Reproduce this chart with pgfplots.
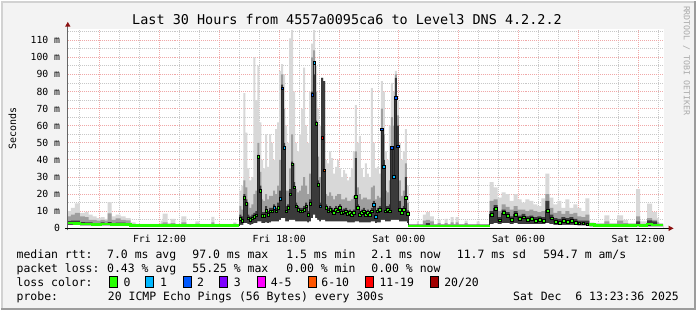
\documentclass[border=0pt]{standalone}
\usepackage{fontspec}
\setmainfont{DejaVu Sans Mono}
\usepackage{pgfplots}
\usepackage{pgfplotstable}
\pgfplotsset{compat=1.18}

\definecolor{bgcol}{HTML}{F3F3F3}
\definecolor{shadeA}{HTML}{D2D2D2}
\definecolor{shadeB}{HTML}{9C9C9C}
\definecolor{gridred}{HTML}{F0A8A8}
\definecolor{gridgray}{HTML}{C8C8C8}
\definecolor{smokeA}{HTML}{D8D8D8}
\definecolor{smokeB}{HTML}{9E9E9E}
\definecolor{smokeC}{HTML}{3A3A3A}
\definecolor{arrowred}{HTML}{8B1010}
\definecolor{wm}{HTML}{AAAAAA}
\definecolor{lossA}{HTML}{26FF00}
\definecolor{lossB}{HTML}{00B8FF}
\definecolor{lossC}{HTML}{0059FF}
\definecolor{lossD}{HTML}{7E00FF}
\definecolor{lossE}{HTML}{FF00FF}
\definecolor{lossF}{HTML}{FF5500}
\definecolor{lossG}{HTML}{FF0000}
\definecolor{lossH}{HTML}{A10000}

% t = hours since Fri 00:00; tc = centre of step; lo/dk/md/hi = smoke bands (ms); med = median rtt (ms); c = loss class (-1 = quiet stretch)
\pgfplotstableread{
t tc lo dk md hi med c
7.40 7.40 2.0 4.2 7.0 10.0 3.2 -1
7.55 7.55 2.0 4.5 8.0 12.0 3.1 -1
7.75 7.75 2.0 4.5 9.0 14.6 3.0 -1
8.00 8.00 1.8 3.6 7.0 9.0 2.6 -1
8.25 8.25 1.8 3.5 6.6 9.5 2.6 -1
8.45 8.45 1.8 3.5 5.0 8.0 2.5 -1
8.65 8.65 1.8 3.0 5.0 7.0 2.4 -1
8.85 8.85 1.8 3.0 4.5 6.0 2.4 -1
9.05 9.05 1.8 3.5 5.0 6.5 2.6 -1
9.25 9.25 1.8 3.0 4.5 5.5 2.5 -1
9.40 9.40 1.8 3.6 8.8 15.4 2.6 -1
9.60 9.60 1.8 3.0 5.0 7.0 2.4 -1
9.80 9.80 1.8 3.4 5.8 8.0 2.4 -1
10.05 10.05 1.8 3.4 5.0 7.0 2.4 -1
10.30 10.30 1.6 3.0 4.6 6.0 2.2 -1
10.55 10.55 1.1 2.3 2.6 3.5 1.7 -1
10.80 10.80 1.1 2.3 2.5 2.6 1.7 -1
12.05 12.05 1.1 2.3 2.8 4.5 1.7 -1
12.15 12.15 1.1 2.3 3.5 8.6 1.7 -1
12.40 12.40 1.1 2.3 2.5 3.0 1.7 -1
12.55 12.55 1.1 2.3 3.0 5.5 1.7 -1
12.80 12.80 1.1 2.3 2.5 2.6 1.7 -1
13.10 13.10 1.1 2.3 3.5 7.0 1.7 -1
13.35 13.35 1.1 2.3 2.5 2.6 1.7 -1
13.80 13.80 1.1 2.3 2.8 4.0 1.7 -1
14.00 14.00 1.1 2.3 2.5 2.6 1.7 -1
14.60 14.60 1.1 2.3 3.5 6.7 1.7 -1
14.75 14.75 1.1 2.3 2.5 2.6 1.7 -1
15.70 15.70 1.1 2.3 2.8 3.5 1.7 -1
15.85 15.85 1.1 2.3 2.5 2.6 1.7 -1
16.0 16.05 2.0 8 13 22 5.8 0
16.1 16.15 2.0 7 11 25 4.5 0
16.2 16.25 3.0 20 28 79 18 0
16.3 16.35 3.0 17 24 56 14.6 0
16.4 16.45 2.5 8 15 35 6 0
16.5 16.55 2.0 7 12 28 5 0
16.6 16.65 2.5 8 14 30 6 0
16.7 16.75 3.0 9 20 100 7 0
16.8 16.85 3.0 10 22 75 7.6 0
16.9 16.95 4.0 43 50 95 42 0
17.0 17.05 4.0 25 33 62 22 0
17.1 17.15 3.0 9.5 17 40 7.5 0
17.2 17.25 3.0 9.5 16 35 7.5 0
17.3 17.35 3.5 13 20 55 10.5 0
17.4 17.45 3.0 10 17 36 8 0
17.5 17.55 3.5 12 19 55 10 0
17.6 17.65 4.0 12 19 50 10 0
17.7 17.75 4.0 14 22 40 12 1
17.8 17.85 4.0 12 20 58 10 0
17.9 17.95 4.0 15 25 62 12 0
18.0 18.05 5.0 22 40 92 17.5 1
18.1 18.15 6.0 84 90 96 82 2
18.2 18.25 6.0 50 70 90 47 1
18.3 18.35 4.0 13 22 60 10 0
18.4 18.45 4.0 14 22 50 12 0
18.5 18.55 5.0 23 35 111 20 0
18.6 18.65 5.0 39 55 116 37.5 0
18.7 18.75 5.0 27 38 80 24 0
18.8 18.85 4.0 15 23 50 13 0
18.9 18.95 4.0 13 21 45 11 0
19.0 19.05 4.0 12 22 55 10 0
19.1 19.15 4.0 12 25 70 10 0
19.2 19.25 4.0 13 30 94 11 0
19.3 19.35 4.0 15 25 60 13 0
19.4 19.45 3.5 10 20 50 8 0
19.5 19.55 4.0 17 32 80 14.6 0
19.6 19.65 6.0 80 100 108 78 2
19.7 19.75 8.0 90 104 116 97 1
19.8 19.85 6.0 63 80 95 61 0
19.9 19.95 5.0 28 42 70 25.5 0
20.0 20.05 4.0 15 30 60 13 1
20.1 20.15 5.0 88 88 88 53 11
20.2 20.25 5.0 86 86 86 34 6
20.3 20.35 4.0 14 20 40 12 0
20.4 20.45 4.0 12 19 38 10 0
20.5 20.55 4.0 13 21 45 11 0
20.6 20.65 4.0 12 19 41 10 0
20.7 20.75 4.0 11 17 32 9 0
20.8 20.85 4.0 13 19 36 11 0
20.9 20.95 4.0 12 20 40 10 0
21.0 21.05 4.0 14 20 35 12 0
21.1 21.15 4.0 11 17 30 9 0
21.2 21.25 4.0 11.5 17 34 9.5 0
21.3 21.35 4.0 12 18 32 10 0
21.4 21.45 3.5 10.5 16 28 8.5 0
21.5 21.55 3.5 11 16 30 9 0
21.6 21.65 3.5 10 17 35 8 0
21.7 21.75 3.5 11 19 45 9 0
21.8 21.85 4.0 41 45 72 18.5 0
21.9 21.95 4.0 14 24 50 12 0
22.0 22.05 3.5 10 20 54 8 0
22.1 22.15 3.5 11 17 35 9 0
22.2 22.25 3.5 12 18 30 10 0
22.3 22.35 3.5 10 18 38 8 0
22.4 22.45 3.5 11 17 32 9 0
22.5 22.55 3.5 10 17 30 8 0
22.6 22.65 4.0 12 24 82 10 0
22.7 22.75 4.0 16 25 50 14 1
22.8 22.85 3.0 9 17 35 7 1
22.9 22.95 3.5 12 19 36 10 0
23.0 23.05 3.5 13 18 32 11 0
23.1 23.15 5.0 58 70 86 58 2
23.2 23.25 5.0 40 55 80 36 1
23.3 23.35 4.0 13 22 45 10 0
23.4 23.45 4.0 13 21 40 11 0
23.5 23.55 4.0 14 28 60 10 0
23.6 23.65 5.0 47 65 85 47 2
23.7 23.75 5.0 48 60 80 30 1
23.8 23.85 5.0 88 90 92 76.5 2
23.9 23.95 5.0 60 66 75 48 2
24.0 24.05 4.0 16 28 50 11 0
24.1 24.15 4.0 11 19 40 9 0
24.2 24.25 4.0 13 22 45 11 0
24.3 24.35 4.0 30 38 58 18 0
24.4 24.45 3.0 10.5 15 25 8.5 0
24.50 24.50 1.0 2.0 2.3 2.5 1.4 -1
24.90 24.90 1.0 2.0 2.5 4.0 1.4 -1
25.00 25.00 1.0 2.0 2.3 2.5 1.4 -1
25.20 25.20 1.0 2.0 4.5 8.0 1.4 -1
25.35 25.35 1.0 3.0 5.0 9.5 1.4 -1
25.55 25.55 1.0 2.0 4.0 7.0 1.4 -1
25.75 25.75 1.0 2.0 2.3 2.5 1.4 -1
25.95 25.95 1.0 2.0 3.0 5.0 1.4 -1
26.10 26.10 1.0 2.0 2.3 2.5 1.4 -1
26.30 26.30 1.0 2.0 3.0 5.5 1.4 -1
26.45 26.45 1.0 2.0 2.3 2.5 1.4 -1
26.60 26.60 1.0 2.0 3.5 6.5 1.4 -1
26.75 26.75 1.0 2.0 2.3 2.5 1.4 -1
26.85 26.85 1.0 2.0 3.5 6.6 1.4 -1
27.00 27.00 1.0 2.0 2.3 2.5 1.4 -1
27.30 27.30 1.0 2.0 3.0 4.5 1.4 -1
27.45 27.45 1.0 2.0 2.3 2.5 1.4 -1
27.90 27.90 1.0 2.0 2.5 4.0 1.4 -1
28.05 28.05 1.0 2.0 2.3 2.5 1.4 -1
28.55 28.65 2.5 10 16 27 8 0
28.75 28.85 3.0 13.5 17 24 11.5 0
28.95 29.05 2.5 6.5 10 18 4.7 0
29.15 29.25 3.0 11 14 21 9 0
29.35 29.45 3.0 9.5 12.5 20 7.5 0
29.55 29.65 2.5 7 11 16 5 0
29.75 29.85 3.0 10 13 20 8 0
29.95 30.05 2.5 7.5 11 17 5.5 0
30.15 30.25 2.5 8.5 11 15 6.5 0
30.35 30.45 2.5 7 10 17 5 0
30.55 30.65 2.5 7.5 11 16 5.5 0
30.75 30.85 2.5 6.5 10 14 4.5 0
30.95 31.05 2.5 7 9.5 13 5 0
31.15 31.25 2.5 6.5 10 17.5 4.5 0
31.35 31.45 3.0 16 20 32 10.5 0
31.55 31.65 2.5 8 12 18 6 0
31.75 31.85 2.0 6 9 14 4 0
31.95 32.05 2.0 5.5 10 16 3.5 0
32.15 32.25 2.0 6.5 8.5 12 4.5 0
32.35 32.45 2.0 6 10 17 4 0
32.55 32.65 2.0 6.5 8.5 12 4.5 0
32.75 32.85 2.0 5.5 9 14 3.5 0
32.95 33.05 1.8 4.5 7 12 3 0
33.15 33.25 1.8 4.5 6.5 10 3 0
33.35 33.45 1.8 4.5 8 17.5 2.5 0
33.55 33.55 1.2 2.5 3.0 3.5 2.2 -1
33.80 33.80 1.1 2.3 2.6 3.0 1.7 -1
34.30 34.30 1.1 2.3 4.0 7.6 1.7 -1
34.55 34.55 1.1 2.3 2.6 3.0 1.7 -1
34.95 34.95 1.1 2.3 4.5 7.6 1.7 -1
35.25 35.25 1.1 2.3 3.0 5.0 1.7 -1
35.50 35.50 1.1 2.3 2.6 3.0 1.7 -1
35.90 35.90 1.1 4.0 7.0 23.0 1.9 -1
36.10 36.10 1.1 2.3 2.6 4.0 1.7 -1
36.45 36.45 1.2 4.7 6.0 14.5 2.5 -1
36.70 36.70 1.1 4.0 5.0 9.5 1.9 -1
36.95 36.95 1.1 2.3 3.5 6.0 1.9 -1
37.05 37.05 1.1 2.3 2.6 3.0 1.9 -1
37.25 37.25 1.1 2.3 2.6 3.0 1.9 -1
}\smoke

\newcommand{\lfont}{\fontsize{11.5}{13}\selectfont}

\begin{document}
\begin{tikzpicture}
\begin{scope}[x=1pt,y=1pt]
% background, 3D border and white canvas
\fill[bgcol] (0,0) rectangle (697,310);
\draw[shadeA, line width=2pt] (1,0) -- (1,309) -- (697,309);
\draw[shadeB, line width=2pt] (0,1) -- (696,1) -- (696,310);
\fill[white] (67,82) rectangle (665,282);
\end{scope}

\begin{axis}[
  at={(67pt,82pt)}, anchor=south west,
  scale only axis, width=598pt, height=200pt,
  xmin=7.4, xmax=37.3, ymin=0, ymax=116.6,
  axis line style={draw=none},
  xtick={9,12,...,36},
  xticklabels={{},Fri 12:00,{},Fri 18:00,{},Sat 00:00,{},Sat 06:00,{},Sat 12:00},
  minor xtick={8,10,11,13,14,16,17,19,20,22,23,25,26,28,29,31,32,34,35,37},
  ytick={0,10,...,110},
  yticklabels={0,10 m,20 m,30 m,40 m,50 m,60 m,70 m,80 m,90 m,100 m,110 m},
  minor ytick={5,15,...,115},
  xmajorgrids, ymajorgrids, xminorgrids, yminorgrids,
  major grid style={draw=gridred, dash pattern=on 1pt off 1pt, line width=0.9pt},
  minor grid style={draw=gridgray, dash pattern=on 1pt off 1pt, line width=0.9pt},
  major tick length=0pt, minor tick length=0pt,
  tick label style={font=\fontsize{9.8}{11}\selectfont},
  xticklabel style={anchor=north, inner sep=0pt, yshift=-6.5pt},
  yticklabel style={anchor=east, inner sep=0pt, xshift=-7.5pt},
  ylabel={Seconds},
  every axis y label/.style={at={(rel axis cs:0,0.5)}, xshift=-55.5pt, rotate=90, anchor=center, font=\fontsize{10}{12}\selectfont},
]
% smoke: stacked bands drawn from the top band down, the lowest ping masked in white
\addplot[fill=smokeA, draw=none, mark=none, const plot] table[x=t,y=hi]{\smoke} \closedcycle;
\addplot[fill=smokeB, draw=none, mark=none, const plot] table[x=t,y=md]{\smoke} \closedcycle;
\addplot[fill=smokeC, draw=none, mark=none, const plot] table[x=t,y=dk]{\smoke} \closedcycle;
\addplot[fill=white, draw=none, mark=none, const plot] table[x=t,y=lo]{\smoke} \closedcycle;
% median line
\addplot[const plot, mark=none, color=black!85, line width=0.8pt] table[x=t,y=med]{\smoke};
% quiet stretches: median drawn as a thick green line
\addplot[const plot, mark=none, color=lossA, line width=2.6pt] coordinates {(7.40,3.2) (7.75,3.0) (8.00,2.6) (8.45,2.5) (8.65,2.4) (9.05,2.6) (9.60,2.4) (10.30,2.2) (10.55,1.7) (16.00,1.7)};
\addplot[const plot, mark=none, color=lossA, line width=2.6pt] coordinates {(24.45,1.4) (28.55,1.4)};
\addplot[const plot, mark=none, color=lossA, line width=2.6pt] coordinates {(33.55,2.2) (33.80,1.7) (35.90,1.9) (36.10,1.7) (36.45,2.5) (36.70,1.9) (37.25,1.9)};
% loss-coloured median marks
\addplot[only marks, mark=square*, mark size=1.35pt, mark options={draw=none, fill=lossA}, restrict expr to domain={\thisrow{c}}{0:0}] table[x=tc,y=med]{\smoke};
\addplot[only marks, mark=square*, mark size=1.35pt, mark options={draw=none, fill=lossB}, restrict expr to domain={\thisrow{c}}{1:1}] table[x=tc,y=med]{\smoke};
\addplot[only marks, mark=square*, mark size=1.35pt, mark options={draw=none, fill=lossC}, restrict expr to domain={\thisrow{c}}{2:2}] table[x=tc,y=med]{\smoke};
\addplot[only marks, mark=square*, mark size=1.35pt, mark options={draw=none, fill=lossF}, restrict expr to domain={\thisrow{c}}{6:6}] table[x=tc,y=med]{\smoke};
\addplot[only marks, mark=square*, mark size=1.35pt, mark options={draw=none, fill=lossG}, restrict expr to domain={\thisrow{c}}{11:11}] table[x=tc,y=med]{\smoke};
\end{axis}

\begin{scope}[x=1pt,y=1pt]
% axes with arrows
\draw[color=black!60, line width=1pt] (67,80) -- (67,285);
\fill[arrowred] (64.3,284.3) -- (69.7,284.3) -- (67,289) -- cycle;
\draw[color=black, line width=1pt] (64,82) -- (670,82);
\fill[arrowred] (669.5,79.3) -- (669.5,84.7) -- (674.5,82) -- cycle;

% title and watermark
\node[anchor=base, inner sep=0pt, font=\fontsize{13.5}{15}\selectfont] at (347,286) {Last 30 Hours from 4557a0095ca6 to Level3 DNS 4.2.2.2};
\node[rotate=-90, anchor=center, inner sep=0pt, text=wm, font=\fontsize{8.3}{9}\selectfont] at (687.5,250) {RRDTOOL / TOBI OETIKER};

% legend
\begin{scope}[every node/.style={anchor=base west, inner sep=0pt, font=\lfont}]
\node at (15.5,51.5) {median rtt:};
\node at (106.3,51.5) {7.0 ms avg};
\node at (191.8,51.5) {97.0 ms max};
\node at (286,51.5) {1.5 ms min};
\node at (371.3,51.5) {2.1 ms now};
\node at (457,51.5) {11.7 ms sd};
\node at (543.7,51.5) {594.7 m am/s};

\node at (15.5,37.5) {packet loss:};
\node at (106.3,37.5) {0.43 \% avg};
\node at (191.8,37.5) {55.25 \% max};
\node at (286,37.5) {0.00 \% min};
\node at (371.3,37.5) {0.00 \% now};

\node at (15.5,23.5) {loss color:};
\filldraw[fill=lossA, draw=black, line width=0.8pt] (108.5,23) rectangle (116.5,33.5);
\node at (122.8,23.5) {0};
\filldraw[fill=lossB, draw=black, line width=0.8pt] (145,23) rectangle (153,33.5);
\node at (159.3,23.5) {1};
\filldraw[fill=lossC, draw=black, line width=0.8pt] (182.5,23) rectangle (190.5,33.5);
\node at (196.4,23.5) {2};
\filldraw[fill=lossD, draw=black, line width=0.8pt] (219.5,23) rectangle (227.5,33.5);
\node at (233.4,23.5) {3};
\filldraw[fill=lossE, draw=black, line width=0.8pt] (257.5,23) rectangle (265.5,33.5);
\node at (270.4,23.5) {4-5};
\filldraw[fill=lossF, draw=black, line width=0.8pt] (308,23) rectangle (316,33.5);
\node at (321.2,23.5) {6-10};
\filldraw[fill=lossG, draw=black, line width=0.8pt] (365.7,23) rectangle (373.7,33.5);
\node at (379.4,23.5) {11-19};
\filldraw[fill=lossH, draw=black, line width=0.8pt] (430.5,23) rectangle (438.5,33.5);
\node at (444.4,23.5) {20/20};

\node at (15.5,9.5) {probe:};
\node at (107,9.5) {20 ICMP Echo Pings (56 Bytes) every 300s};
\end{scope}
\node[anchor=base east, inner sep=0pt, font=\lfont] at (680,9.5) {Sat Dec\ \ 6 13:23:36 2025};
\end{scope}
\end{tikzpicture}
\end{document}
